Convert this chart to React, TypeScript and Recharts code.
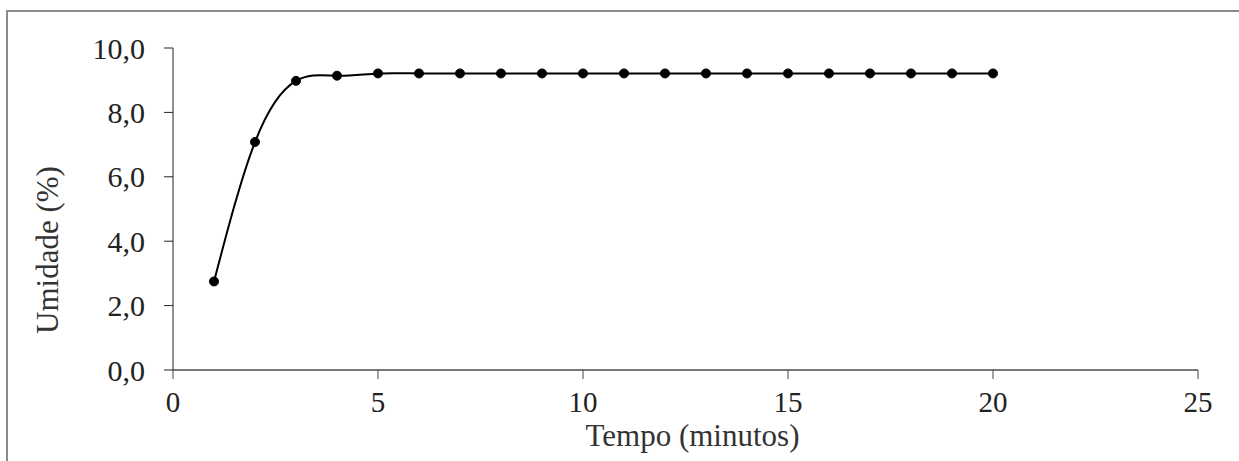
import React from 'react';
import { LineChart, Line, XAxis, YAxis, Label } from 'recharts';

const tempo = [1, 2, 3, 4, 5, 6, 7, 8, 9, 10, 11, 12, 13, 14, 15, 16, 17, 18, 19, 20];
const umidade = [2.75, 7.08, 8.98, 9.14, 9.21, 9.21, 9.21, 9.21, 9.21, 9.21, 9.21, 9.21, 9.21, 9.21, 9.21, 9.21, 9.21, 9.21, 9.21, 9.21];
const xTicks = [0, 5, 10, 15, 20, 25];
const yTicks = [0, 2, 4, 6, 8, 10];

const data = tempo.map((t, i) => ({ tempo: t, umidade: umidade[i] }));

const font = 'Liberation Serif, DejaVu Serif, serif';

const YLabel = (props: any) => {
  const vb = props.viewBox;
  const x = 47;
  const y = vb.y + vb.height / 2 + 41;
  return (
    <text x={x} y={y} transform={`rotate(-90, ${x}, ${y})`} textAnchor="middle" dominantBaseline="central"
      style={{ fontFamily: font, fontSize: 31 }} fill="#333">
      Umidade (%)
    </text>
  );
};

const App = () => {
  return (
    <div style={{ position: 'absolute', left: 0, top: 0, width: 1239, height: 461, background: '#fff', overflow: 'hidden', fontFamily: font }}>
      <div style={{ position: 'absolute', left: 6, top: 10, width: 1250, height: 470, border: '2px solid #8a8a8a', boxSizing: 'border-box' }} />
      <LineChart
        width={1239}
        height={461}
        data={data}
        margin={{ top: 48, right: 41, left: 0, bottom: 31 }}
        style={{ position: 'absolute', left: 0, top: 0, fontFamily: font }}
      >
        <XAxis
          dataKey="tempo"
          type="number"
          domain={[0, 25]}
          ticks={xTicks}
          height={60}
          stroke="#777"
          strokeWidth={2}
          tickSize={9}
          tickMargin={12}
          tick={{ fill: '#222', fontSize: 29, style: { fontFamily: font } }}
          tickLine={{ stroke: '#444', strokeWidth: 1 }}
        >
          <Label value="Tempo (minutos)" position="bottom" offset={-6} dx={7} fill="#333" fontSize={31} style={{ fontFamily: font }} />
        </XAxis>
        <YAxis
          dataKey="umidade"
          type="number"
          domain={[0, 10]}
          ticks={yTicks}
          width={173}
          stroke="#222"
          tickSize={9}
          tickMargin={19}
          tick={{ fill: '#222', fontSize: 30, style: { fontFamily: font } }}
          tickFormatter={(v: number) => v.toFixed(1).replace('.', ',')}
        >
          <Label content={YLabel} />
        </YAxis>
        <Line
          type="natural"
          dataKey="umidade"
          stroke="#000"
          strokeWidth={2}
          dot={{ r: 4.5, fill: '#000', stroke: '#000', strokeWidth: 1 }}
          isAnimationActive={false}
        />
      </LineChart>
    </div>
  );
};

export default App;
